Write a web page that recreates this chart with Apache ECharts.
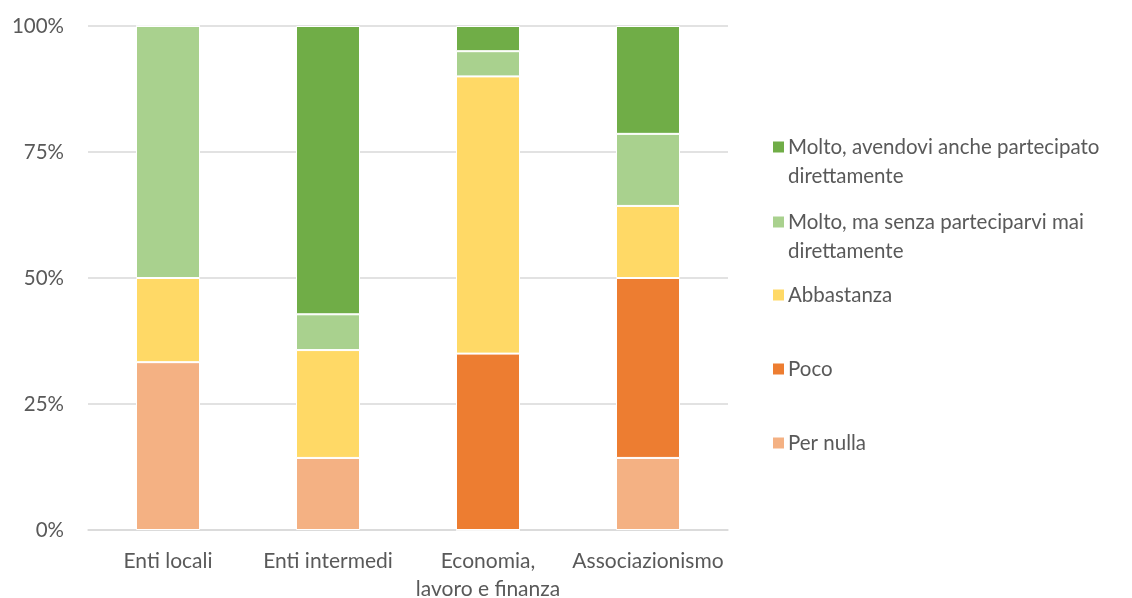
<!DOCTYPE html>
<html><head><meta charset="utf-8">
<script src="https://cdn.jsdelivr.net/npm/echarts@6/dist/echarts.min.js"></script>
<style>html,body{margin:0;padding:0;background:#fff}#c{width:1132px;height:598px}</style>
</head><body><div id="c"></div>
<script>
var categories = ['Enti locali', 'Enti intermedi', 'Economia,\nlavoro e finanza', 'Associazionismo'];
var seriesNames = ['Per nulla', 'Poco', 'Abbastanza', 'Molto, ma senza parteciparvi mai direttamente', 'Molto, avendovi anche partecipato direttamente'];
var perNulla = [33.3, 14.3, 0, 14.3];
var poco = [0, 0, 35, 35.7];
var abbastanza = [16.7, 21.4, 55, 14.3];
var moltoSenza = [50, 7.1, 5, 14.3];
var moltoAvendo = [0, 57.2, 5, 21.4];
var yTicks = ['0%', '25%', '50%', '75%', '100%'];
var colors = ['#F4B183', '#ED7D31', '#FFD966', '#A9D18E', '#70AD47'];
var legendLabels = {
  'Molto, avendovi anche partecipato direttamente': '\nMolto, avendovi anche partecipato\ndirettamente',
  'Molto, ma senza parteciparvi mai direttamente': '\nMolto, ma senza parteciparvi mai\ndirettamente'
};
var values = [perNulla, poco, abbastanza, moltoSenza, moltoAvendo];
var FONT = 'Lato';
var LH = 29;
var legendPos = [
  {name: seriesNames[4], y: 147, lines: 3},
  {name: seriesNames[3], y: 222, lines: 3},
  {name: seriesNames[2], y: 295, lines: 1},
  {name: seriesNames[1], y: 369, lines: 1},
  {name: seriesNames[0], y: 443, lines: 1}
];
var chart = echarts.init(document.getElementById('c'), null, {renderer: 'canvas'});
chart.setOption({
  animation: false,
  color: colors,
  grid: {left: 88, width: 640, top: 26, height: 504, containLabel: false, outerBoundsMode: 'none'},
  legend: legendPos.map(function (p) {
    return {
      data: [p.name], left: 771, top: p.y - p.lines * LH / 2,
      itemWidth: 13, itemHeight: 13, itemGap: 0, icon: 'rect', selectedMode: false,
      padding: 0,
      formatter: function (n) { return legendLabels[n] || n; },
      textStyle: {fontFamily: FONT, fontSize: 20.5, color: '#595959', lineHeight: LH, padding: [0, 0, 0, -2]}
    };
  }),
  xAxis: {
    type: 'category', data: categories,
    axisLine: {lineStyle: {color: '#D9D9D9', width: 1.5}},
    axisTick: {show: false},
    axisLabel: {fontFamily: FONT, fontSize: 21, color: '#595959', margin: 17, lineHeight: 28, interval: 0}
  },
  yAxis: {
    type: 'value', min: 0, max: 100, interval: 25,
    axisLine: {show: false}, axisTick: {show: false},
    splitLine: {lineStyle: {color: '#D9D9D9', width: 1.5}},
    axisLabel: {fontFamily: FONT, fontSize: 20.5, color: '#595959', margin: 24,
      formatter: function (v) { return yTicks[Math.round(v / 25)]; }}
  },
  series: seriesNames.map(function (n, i) {
    return {
      name: n, type: 'bar', stack: 'total', barWidth: '40%',
      itemStyle: {color: colors[i], borderColor: '#fff', borderWidth: 1},
      data: values[i]
    };
  })
});
</script></body></html>
